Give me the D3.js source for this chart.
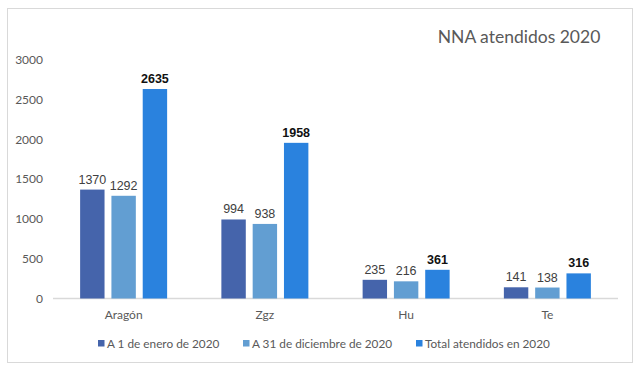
<!DOCTYPE html>
<html><head><meta charset="utf-8">
<script src="https://cdn.jsdelivr.net/npm/d3@7"></script>
<style>body{margin:0;background:#fff}</style>
</head><body>
<svg id="c" width="640" height="370"></svg>
<script>
const categories = ["Aragón", "Zgz", "Hu", "Te"];
const seriesNames = ["A 1 de enero de 2020", "A 31 de diciembre de 2020", "Total atendidos en 2020"];
const enero = [1370, 994, 235, 141];
const diciembre = [1292, 938, 216, 138];
const total = [2635, 1958, 361, 316];
const yTicks = [0, 500, 1000, 1500, 2000, 2500, 3000];
const colors = ["#4564ab", "#629ed2", "#2a82de"];
const seriesValues = [enero, diciembre, total];

const svg = d3.select("#c");
svg.append("rect").attr("x", 7.5).attr("y", 8.5).attr("width", 625).attr("height", 354)
  .attr("fill", "#fff").attr("stroke", "#d9d9d9");

const x = d3.scaleBand().domain(categories).range([53, 618]);
const y = d3.scaleLinear().domain([0, 3000]).range([298.5, 60]);
const xs = d3.scaleBand().domain(d3.range(3)).paddingInner(0.22).paddingOuter(0);

// title
svg.append("text").attr("x", 519).attr("y", 43).attr("text-anchor", "middle")
  .attr("font-family", "Lato").attr("font-size", 17.5).attr("fill", "#595959")
  .text("NNA atendidos 2020");

// y axis labels
svg.append("g").selectAll("text").data(yTicks).join("text")
  .attr("x", 43).attr("y", d => y(d)).attr("dy", "0.35em").attr("text-anchor", "end")
  .attr("font-family", "Lato").attr("font-size", 12).attr("fill", "#595959")
  .text(d => d);

// axis line
svg.append("line").attr("x1", 53).attr("x2", 618).attr("y1", y(0)).attr("y2", y(0))
  .attr("stroke", "#d9d9d9").attr("stroke-width", 1.5);

const groups = svg.append("g").selectAll("g").data(categories).join("g")
  .attr("transform", d => `translate(${x(d) + x.bandwidth() / 2 - 43.5},0)`);
xs.range([0, 87]);

groups.each(function (cat, ci) {
  const g = d3.select(this);
  seriesValues.forEach((vals, si) => {
    const v = vals[ci];
    g.append("rect").attr("x", xs(si)).attr("width", xs.bandwidth())
      .attr("y", y(v)).attr("height", y(0) - y(v)).attr("fill", colors[si]);
    g.append("text").attr("x", xs(si) + xs.bandwidth() / 2).attr("y", y(v) - 6)
      .attr("text-anchor", "middle").attr("font-family", "Liberation Sans, Arial")
      .attr("font-size", 12.5).attr("font-weight", si === 2 ? "bold" : "normal")
      .attr("fill", si === 2 ? "#111" : "#404040").text(v);
  });
});

// category labels
svg.append("g").selectAll("text").data(categories).join("text")
  .attr("x", d => x(d) + x.bandwidth() / 2).attr("y", 319).attr("text-anchor", "middle")
  .attr("font-family", "Lato").attr("font-size", 12).attr("fill", "#595959")
  .text(d => d);

// legend
const legX = [98, 243, 416];
const leg = svg.append("g").selectAll("g").data(seriesNames).join("g")
  .attr("transform", (d, i) => `translate(${legX[i]},340)`);
leg.append("rect").attr("width", 6.5).attr("height", 6.5).attr("fill", (d, i) => colors[i]);
leg.append("text").attr("x", 9).attr("y", 3.5).attr("dy", "0.35em")
  .attr("font-family", "Lato").attr("font-size", 11.8).attr("fill", "#595959")
  .text(d => d);
</script>
</body></html>
